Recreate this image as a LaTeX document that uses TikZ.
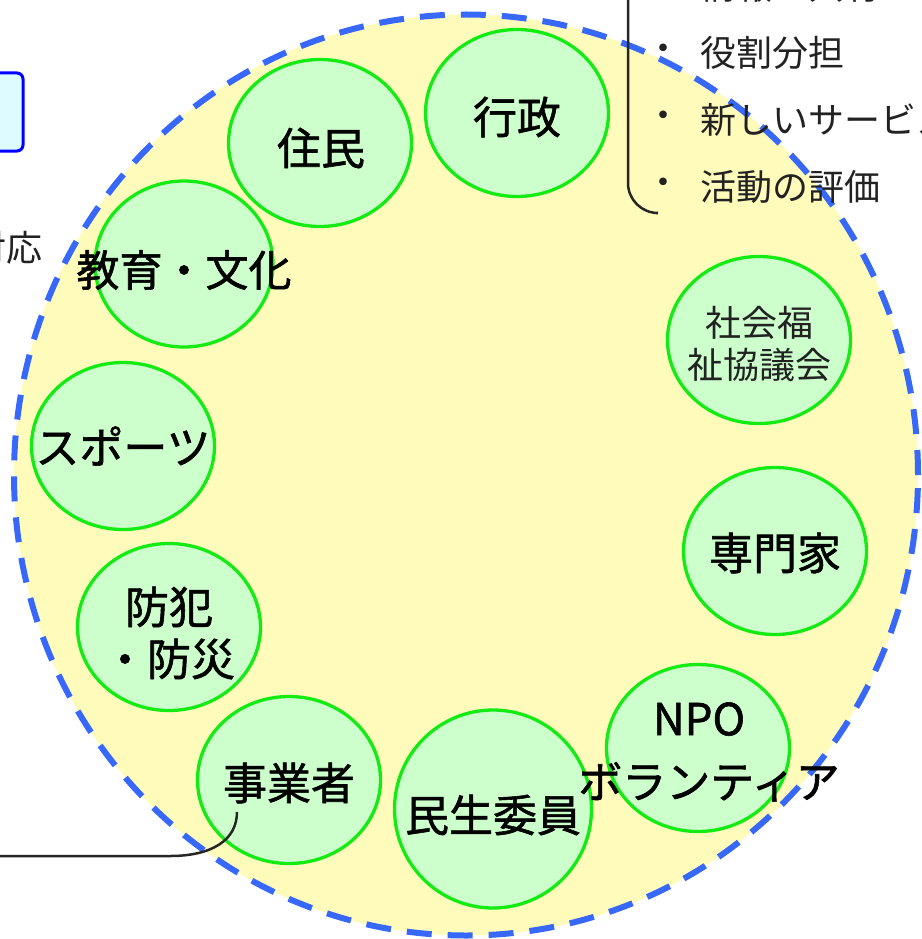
\documentclass[tikz,border=0pt]{standalone}
\usepackage{fontspec}
\newfontfamily\jp{Noto Sans CJK JP}
\newfontfamily\jpb{Noto Sans CJK JP}[FakeBold=1.3]
\usetikzlibrary{shapes.geometric}
\definecolor{bigfill}{RGB}{255,252,187}
\definecolor{bigline}{RGB}{56,104,250}
\definecolor{bubfill}{RGB}{204,255,204}
\definecolor{bubline}{RGB}{20,235,20}
\definecolor{boxfill}{RGB}{222,252,255}
\definecolor{txtgray}{RGB}{34,34,34}
\tikzset{
  bub/.style={ellipse, draw=bubline, fill=bubfill, line width=3.3pt, inner sep=0pt,
    minimum width=183pt, minimum height=167pt},
  lbl/.style={inner sep=0pt, align=center, text=black, font=\jpb\fontsize{44}{52}\selectfont},
  thin/.style={inner sep=0pt, text=txtgray, font=\jp\fontsize{36}{42}\selectfont},
  conn/.style={draw=black!85, line width=2.5pt},
}
\begin{document}
\begin{tikzpicture}[x=1pt,y=-1pt]
\useasboundingbox (0,0) rectangle (921,939);
% big dashed circle
\node[ellipse, draw=bigline, fill=bigfill, line width=6pt, dash pattern=on 25pt off 16pt,
  minimum width=904pt, minimum height=921pt, inner sep=0pt] (big) at (466,475) {};
% left partial box
\node[draw=blue, fill=boxfill, line width=3pt, rounded corners=6pt,
  minimum width=60pt, minimum height=78pt, inner sep=0pt] (lbox) at (-7,112) {};
\node[thin, anchor=east] (taiou) at (43,248) {対応};
% bubbles
\node[bub] (gyosei) at (517,113) {};
\node[lbl] at (517,117) {行政};
\node[bub] (jumin) at (320,143) {};
\node[lbl] at (321,148) {住民};
\node[bub, minimum width=178pt, minimum height=166pt] (kyoiku) at (184,264) {};
\node[lbl, font=\jpb\fontsize{43}{52}\selectfont] at (184,270) {教育・文化};
\node[bub] (sports) at (123,446) {};
\node[lbl] at (123,446) {スポーツ};
\node[bub] (bohan) at (169,627) {};
\node[lbl] at (169,633) {防犯\\・防災};
\node[bub] (jigyo) at (289,780) {};
\node[lbl] at (289,783) {事業者};
\node[bub, minimum width=197pt, minimum height=198pt] (minsei) at (493,809) {};
\node[lbl] at (493,815) {民生委員};
\node[bub] (npo) at (698,748) {};
\node[lbl, font=\jpb\fontsize{44}{63}\selectfont] at (709,752) {\hspace*{-20pt}NPO\\ボランティア};
\node[bub] (senmon) at (775,551) {};
\node[lbl] at (775,553) {専門家};
\node[bub] (shakyo) at (759,340) {};
\node[thin, align=center] at (759,344) {社会福\\祉協議会};
% list at top right
\node[thin] (b0) at (663,-14) {・};
\node[thin, anchor=west] (t0) at (700,-14) {情報の共有};
\node[thin] (b1) at (663,53) {・};
\node[thin, anchor=west] (t1) at (700,53) {役割分担};
\node[thin] (b2) at (663,120) {・};
\node[thin, anchor=west] (t2) at (700,120) {新しいサービス};
\node[thin] (b3) at (663,187) {・};
\node[thin, anchor=west] (t3) at (700,187) {活動の評価};
% bracket
\coordinate (brtop) at (628,-10);
\coordinate (brend) at (656,213);
\draw[conn, rounded corners=30pt] (brtop) |- (brend);
% connector to 事業者
\coordinate (lfree) at (-10,856);
\coordinate (jend) at (237,812);
\draw[conn] (lfree) -- (170,856) .. controls (212,856) and (237,840) .. (jend);
\end{tikzpicture}
\end{document}
